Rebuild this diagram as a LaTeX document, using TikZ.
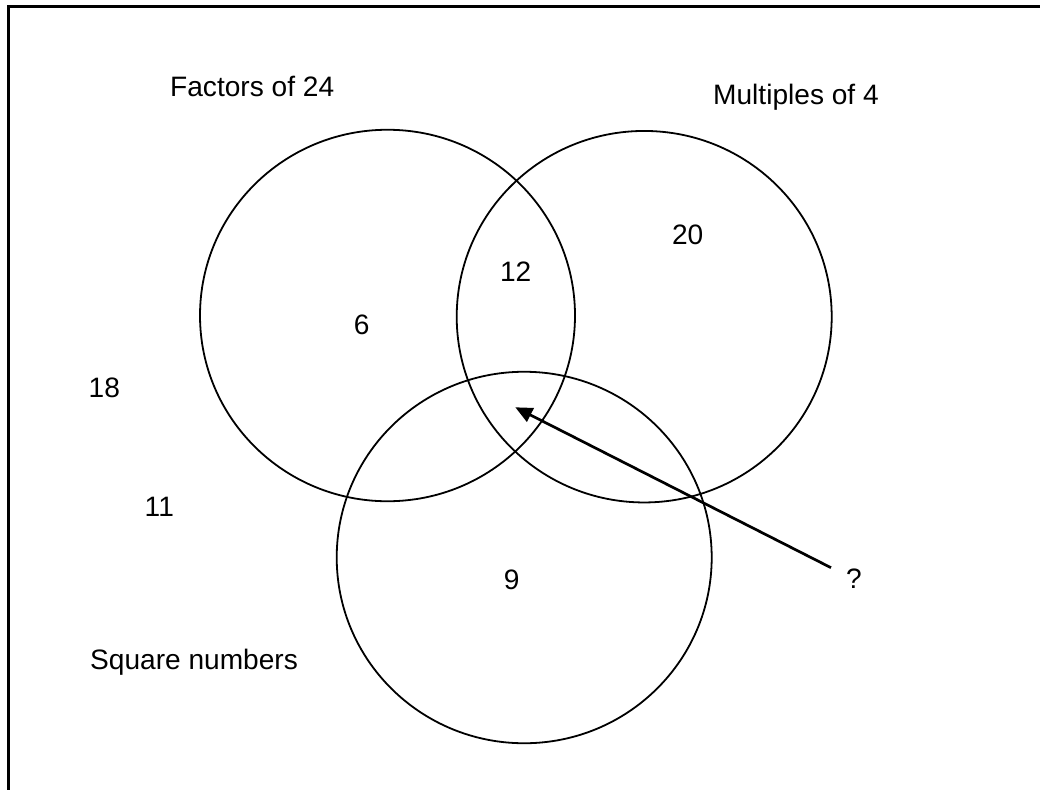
\documentclass[tikz,border=0pt]{standalone}
\usepackage{fontspec}
\setmainfont{Liberation Sans}
\usetikzlibrary{shapes.geometric,arrows.meta}
\begin{document}
\begin{tikzpicture}[x=1pt,y=-1pt,
  setcircle/.style={draw, ellipse, line width=1.8pt, minimum width=375pt, minimum height=371.5pt, inner sep=0pt},
  lbl/.style={inner sep=0pt, font=\fontsize{28.1}{34}\selectfont},
  framestyle/.style={line width=2.6pt},
  pointer/.style={line width=2.7pt, -{Triangle[length=17pt,width=15pt]}}]
\useasboundingbox (0,0) rectangle (1040,789);
\draw[framestyle] (8.3,800) -- (8.3,6.5) -- (1050,6.5);
\node[setcircle] (f24) at (387.5,315.5) {};
\node[setcircle] (m4) at (644.2,316.7) {};
\node[setcircle] (sq) at (524.2,557.5) {};
\node[lbl, anchor=base west] (tf) at (170,96) {Factors of 24};
\node[lbl, anchor=base west] (tm) at (713,105) {Multiples of 4};
\node[lbl, anchor=base west] (ts) at (90,669.3) {Square numbers};
\node[lbl] (n6) at (361.7,325) {6};
\node[lbl] (n12) at (515.7,271.7) {12};
\node[lbl] (n20) at (687.7,235) {20};
\node[lbl] (n9) at (511.7,580) {9};
\node[lbl] (n18) at (104.3,387.7) {18};
\node[lbl] (n11) at (159.3,506.7) {11};
\node[lbl] (q) at (854,578.3) {?};
\coordinate (tail) at (831,567.7);
\coordinate (tip) at (515.3,407.3);
\draw[pointer] (tail) -- (tip);
\end{tikzpicture}
\end{document}
